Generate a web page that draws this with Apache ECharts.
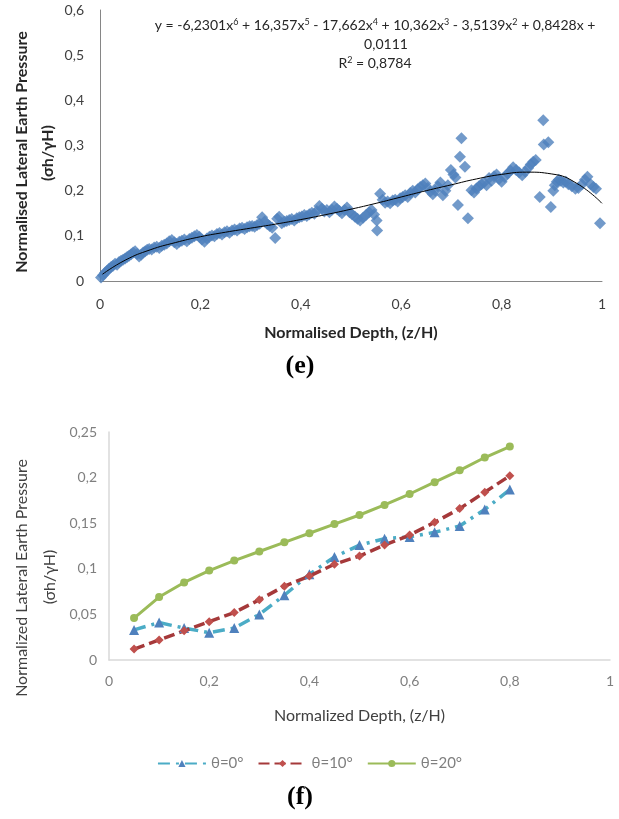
<!DOCTYPE html>
<html>
<head>
<meta charset="utf-8">
<script src="https://cdn.jsdelivr.net/npm/echarts@6/dist/echarts.min.js"></script>
<style>
  html, body { margin: 0; padding: 0; background: #fff; }
  #chart { width: 619px; height: 819px; }
</style>
</head>
<body>
<div id="chart"></div>
<script>
// (e) measured points, [depth z/H, pressure σh/γH]
const scatterPoints = [
  [0.002,0.008],[0.006,0.013],[0.010,0.018],[0.014,0.022],[0.018,0.027],[0.022,0.031],[0.026,0.034],[0.030,0.038],[0.034,0.036],[0.038,0.042],
  [0.042,0.045],[0.046,0.047],[0.050,0.050],[0.054,0.053],[0.058,0.056],[0.062,0.059],[0.066,0.063],[0.070,0.066],[0.074,0.060],[0.078,0.054],
  [0.082,0.058],[0.086,0.063],[0.090,0.066],[0.094,0.069],[0.098,0.071],
  [0.103,0.070],[0.108,0.074],[0.113,0.076],[0.118,0.073],[0.123,0.078],[0.128,0.080],[0.133,0.083],[0.138,0.088],[0.143,0.091],[0.148,0.086],
  [0.153,0.082],[0.158,0.087],[0.163,0.089],[0.168,0.092],[0.173,0.088],[0.178,0.093],[0.183,0.096],[0.188,0.099],[0.193,0.102],[0.198,0.098],
  [0.203,0.092],[0.208,0.087],[0.213,0.094],[0.218,0.098],[0.223,0.101],[0.228,0.099],[0.233,0.104],[0.238,0.106],[0.243,0.103],[0.248,0.108],
  [0.253,0.110],[0.258,0.107],[0.263,0.112],[0.268,0.114],[0.273,0.112],[0.278,0.116],[0.283,0.118],[0.288,0.115],[0.293,0.119],[0.298,0.121],
  [0.303,0.122],[0.308,0.120],[0.313,0.124],[0.318,0.127],[0.323,0.141],[0.328,0.132],[0.333,0.126],[0.338,0.122],[0.343,0.118],[0.349,0.095],
  [0.353,0.138],[0.357,0.142],[0.362,0.128],[0.367,0.131],[0.372,0.133],[0.377,0.135],[0.382,0.137],[0.387,0.134],[0.392,0.139],[0.397,0.141],
  [0.402,0.143],[0.407,0.146],[0.412,0.144],[0.417,0.148],[0.422,0.151],[0.427,0.149],[0.432,0.155],[0.437,0.166],[0.442,0.160],[0.447,0.154],
  [0.452,0.157],[0.457,0.152],[0.462,0.158],[0.467,0.165],[0.472,0.160],[0.477,0.155],[0.482,0.150],[0.487,0.157],[0.492,0.163],[0.497,0.152],
  [0.502,0.148],[0.508,0.142],[0.513,0.138],[0.518,0.134],[0.524,0.140],[0.530,0.146],[0.536,0.152],[0.541,0.157],[0.546,0.147],[0.551,0.134],
  [0.552,0.112],[0.558,0.193],[0.563,0.180],[0.568,0.173],[0.573,0.176],[0.578,0.172],[0.583,0.178],[0.588,0.180],[0.593,0.176],[0.598,0.183],
  [0.603,0.186],[0.608,0.190],[0.613,0.186],[0.618,0.195],[0.623,0.200],[0.628,0.196],[0.633,0.203],[0.638,0.208],[0.643,0.212],[0.648,0.216],
  [0.653,0.206],[0.658,0.198],[0.663,0.192],[0.668,0.200],[0.673,0.210],[0.678,0.218],[0.683,0.190],[0.688,0.200],[0.693,0.212],[0.699,0.246],
  [0.704,0.236],[0.708,0.229],[0.713,0.168],[0.717,0.275],[0.720,0.316],[0.727,0.253],[0.733,0.139],[0.740,0.201],[0.745,0.196],[0.750,0.205],
  [0.755,0.210],[0.760,0.214],[0.765,0.218],[0.770,0.212],[0.775,0.228],[0.780,0.222],[0.785,0.232],[0.790,0.236],[0.795,0.226],[0.800,0.220],
  [0.806,0.230],[0.812,0.238],[0.818,0.244],[0.823,0.252],[0.829,0.246],[0.835,0.240],[0.841,0.234],[0.847,0.242],[0.853,0.250],[0.858,0.258],
  [0.863,0.264],[0.868,0.268],[0.876,0.186],[0.883,0.356],[0.884,0.302],[0.893,0.307],[0.898,0.164],[0.903,0.200],
  [0.906,0.212],[0.910,0.220],[0.914,0.224],[0.918,0.222],[0.923,0.218],[0.928,0.220],[0.933,0.214],[0.940,0.210],[0.947,0.204],[0.953,0.206],
  [0.960,0.214],[0.966,0.224],[0.971,0.231],[0.977,0.215],[0.983,0.208],[0.988,0.204],[0.996,0.128]
]

// (e) trend line
const trendX = [0.005, 0.05, 0.1, 0.15, 0.2, 0.25, 0.3, 0.35, 0.4, 0.45, 0.5, 0.55, 0.6, 0.65, 0.7, 0.75, 0.8, 0.85, 0.9, 0.95, 1.0]
const trendY = [0.015, 0.046, 0.069, 0.085, 0.098, 0.108, 0.117, 0.126, 0.136, 0.147, 0.159, 0.172, 0.186, 0.2, 0.213, 0.226, 0.236, 0.241, 0.237, 0.216, 0.172]

// (f) depth and the three inclinations
const depthF = [0.05, 0.1, 0.15, 0.2, 0.25, 0.3, 0.35, 0.4, 0.45, 0.5, 0.55, 0.6, 0.65, 0.7, 0.75, 0.8]
const theta0 = [0.033, 0.041, 0.035, 0.030, 0.035, 0.050, 0.071, 0.094, 0.113, 0.126, 0.133, 0.135, 0.140, 0.147, 0.165, 0.187]
const theta10 = [0.012, 0.022, 0.032, 0.042, 0.052, 0.066, 0.081, 0.092, 0.105, 0.114, 0.126, 0.137, 0.151, 0.166, 0.184, 0.202]
const theta20 = [0.046, 0.069, 0.085, 0.098, 0.109, 0.119, 0.129, 0.139, 0.149, 0.159, 0.170, 0.182, 0.195, 0.208, 0.222, 0.234]
const legendNames = ['θ=0°', 'θ=10°', 'θ=20°']

const comma = function (v) {
  return String(Number(v.toFixed(2))).replace('.', ',')
}
const pair = function (xs, ys) {
  return xs.map(function (x, i) { return [x, ys[i]] })
}

const eqRich = {
  s: { fontSize: 9, fontFamily: 'Lato', verticalAlign: 'top', lineHeight: 14, padding: [0, 0, 4, 0] }
}

const myChart = echarts.init(document.getElementById('chart'))
myChart.setOption({
  animation: false,
  textStyle: { fontFamily: 'Lato' },
  grid: [
    { left: 100, right: 17, top: 10, height: 271 },
    { left: 109, right: 9, top: 432, height: 228 }
  ],
  xAxis: [
    {
      gridIndex: 0, type: 'value', min: 0, max: 1, interval: 0.2,
      name: 'Normalised Depth, (z/H)', nameLocation: 'middle', nameGap: 44,
      nameTextStyle: { fontSize: 16, fontWeight: 'bold', color: '#262626' },
      axisLine: { lineStyle: { color: '#868686' } },
      axisTick: { show: false },
      splitLine: { show: false },
      axisLabel: { fontSize: 14, color: '#404040', margin: 16, formatter: comma }
    },
    {
      gridIndex: 1, type: 'value', min: 0, max: 1, interval: 0.2,
      name: 'Normalized Depth, (z/H)', nameLocation: 'middle', nameGap: 48,
      nameTextStyle: { fontSize: 16, color: '#404040' },
      axisLine: { lineStyle: { color: '#d9d9d9', width: 1.5 } },
      axisTick: { show: false },
      splitLine: { show: false },
      axisLabel: { fontSize: 14, color: '#7f7f7f', margin: 14, formatter: comma }
    }
  ],
  yAxis: [
    {
      gridIndex: 0, type: 'value', min: 0, max: 0.6, interval: 0.1,
      axisLine: { show: true, lineStyle: { color: '#868686' } },
      axisTick: { show: false },
      splitLine: { show: false },
      axisLabel: { fontSize: 14, color: '#404040', margin: 16, formatter: comma }
    },
    {
      gridIndex: 1, type: 'value', min: 0, max: 0.25, interval: 0.05,
      axisLine: { show: true, lineStyle: { color: '#d9d9d9', width: 1.5 } },
      axisTick: { show: false },
      splitLine: { show: false },
      axisLabel: { fontSize: 14, color: '#7f7f7f', margin: 12, formatter: comma }
    }
  ],
  legend: {
    data: legendNames,
    top: 751,
    left: 'center',
    itemWidth: 48,
    itemHeight: 9,
    itemGap: 14,
    textStyle: { fontSize: 15, color: '#7f7f7f' }
  },
  graphic: [
    { type: 'text', x: 375, y: 25, style: { text: 'y = -6,2301x{s|6} + 16,357x{s|5} - 17,662x{s|4} + 10,362x{s|3} - 3,5139x{s|2} + 0,8428x +', rich: eqRich, align: 'center', verticalAlign: 'middle', font: '14px Lato', fill: '#262626' } },
    { type: 'text', x: 386, y: 44, style: { text: '0,0111', align: 'center', verticalAlign: 'middle', font: '14px Lato', fill: '#262626' } },
    { type: 'text', x: 375, y: 63, style: { text: 'R{s|2} = 0,8784', rich: eqRich, align: 'center', verticalAlign: 'middle', font: '14px Lato', fill: '#262626' } },
    { type: 'text', x: 22, y: 152, rotation: Math.PI / 2, style: { text: 'Normalised Lateral Earth Pressure', align: 'center', verticalAlign: 'middle', font: 'bold 16px Lato', fill: '#262626' } },
    { type: 'text', x: 48, y: 153, rotation: Math.PI / 2, style: { text: '(σh/γH)', align: 'center', verticalAlign: 'middle', font: 'bold 16px Lato', fill: '#262626' } },
    { type: 'text', x: 300, y: 366, style: { text: '(e)', align: 'center', verticalAlign: 'middle', font: 'bold 26px "Liberation Serif"', fill: '#000' } },
    { type: 'text', x: 22, y: 578, rotation: Math.PI / 2, style: { text: 'Normalized Lateral Earth Pressure', align: 'center', verticalAlign: 'middle', font: '16px Lato', fill: '#404040' } },
    { type: 'text', x: 50, y: 577, rotation: Math.PI / 2, style: { text: '(σh/γH)', align: 'center', verticalAlign: 'middle', font: '16px Lato', fill: '#404040' } },
    { type: 'text', x: 300, y: 797, style: { text: '(f)', align: 'center', verticalAlign: 'middle', font: 'bold 26px "Liberation Serif"', fill: '#000' } }
  ],
  series: [
    {
      type: 'scatter', xAxisIndex: 0, yAxisIndex: 0,
      symbol: 'diamond', symbolSize: 12,
      itemStyle: { color: '#4f81bd' },
      data: scatterPoints
    },
    {
      type: 'line', xAxisIndex: 0, yAxisIndex: 0,
      smooth: true, showSymbol: false,
      lineStyle: { color: '#000', width: 1 },
      data: pair(trendX, trendY)
    },
    {
      name: legendNames[0], type: 'line', xAxisIndex: 1, yAxisIndex: 1,
      symbol: 'triangle', symbolSize: 10,
      itemStyle: { color: '#4f81bd' },
      lineStyle: { color: '#4bacc6', width: 3.5, type: [12, 6, 3, 6] },
      data: pair(depthF, theta0)
    },
    {
      name: legendNames[1], type: 'line', xAxisIndex: 1, yAxisIndex: 1,
      symbol: 'diamond', symbolSize: 9,
      itemStyle: { color: '#c0504d' },
      lineStyle: { color: '#a5393a', width: 3.5, type: [11, 5] },
      data: pair(depthF, theta10)
    },
    {
      name: legendNames[2], type: 'line', xAxisIndex: 1, yAxisIndex: 1,
      symbol: 'circle', symbolSize: 8,
      itemStyle: { color: '#9bbb59' },
      lineStyle: { color: '#9bbb59', width: 3 },
      data: pair(depthF, theta20)
    }
  ]
})
</script>
</body>
</html>
